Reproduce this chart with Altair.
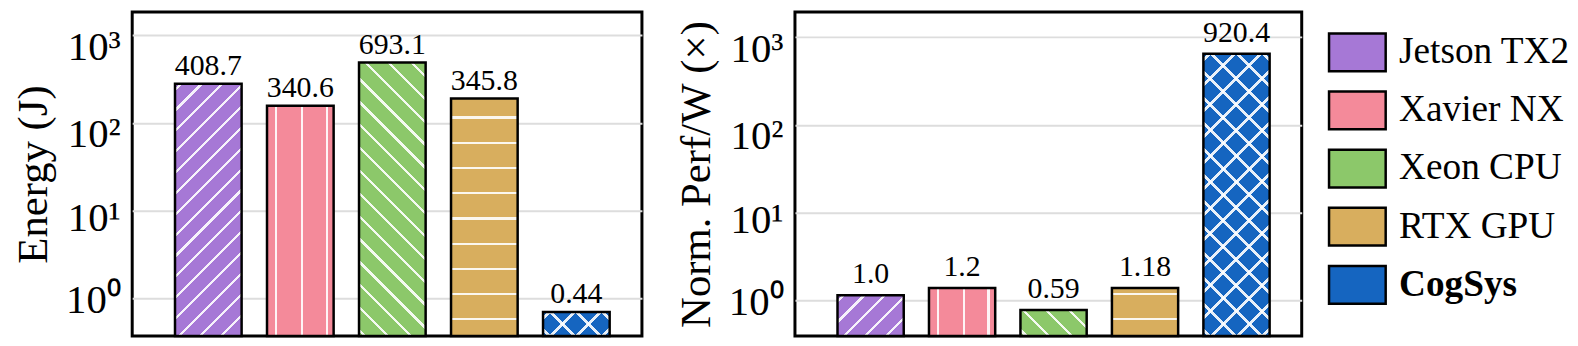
import math
import altair as alt

devices = ["Jetson TX2", "Xavier NX", "Xeon CPU", "RTX GPU", "CogSys"]
colors = ["#A678D6", "#F48A9A", "#8CC86A", "#D8AE5E", "#1565C0"]
hatches = ["fwd", "vert", "back", "horiz", "cross"]

energy_bar = [281, 157, 490, 190, 0.70]
energy_label = ["408.7", "340.6", "693.1", "345.8", "0.44"]

perf_bar = [1.15, 1.39, 0.78, 1.39, 649]
perf_label = ["1.0", "1.2", "0.59", "1.18", "920.4"]

tick_values = [1, 10, 100, 1000]

SERIF = "Liberation Serif"
PLOT_H = 326
PAD_IN, PAD_OUT, ALIGN = 0.276, 0.408, 0.57
CLEAR = "rgba(255,255,255,0)"
WHITE = "rgba(255,255,255,0.9)"

label_expr = ("datum.value >= 1000 ? '10\u00b3' : datum.value >= 100 ? '10\u00b2' : "
              "datum.value >= 10 ? '10\u00b9' : '10\u2070'")
label_offset = {"condition": [{"test": "datum.value >= 100", "value": 12},
                              {"test": "datum.value >= 10", "value": 8}],
                "value": 2}


def stripe_stops(positions, thick, length):
    stops = [{"offset": 0, "color": CLEAR}]
    for p in positions:
        a = max(0.0, (p - thick / 2) / length)
        b = min(1.0, (p + thick / 2) / length)
        if b <= 0 or a >= 1:
            continue
        stops += [{"offset": a, "color": CLEAR}, {"offset": a, "color": WHITE},
                  {"offset": b, "color": WHITE}, {"offset": b, "color": CLEAR}]
    stops.append({"offset": 1, "color": CLEAR})
    return stops


def diag(w, h, spacing, forward, thick=3.2):
    length = w + h
    a = (w + h) * w / (w * w + h * h)
    pos = [6 + spacing * k for k in range(int(length / spacing) + 2)]
    stops = stripe_stops(pos, thick, length)
    if forward:
        return {"gradient": "linear", "x1": 0, "y1": 0, "x2": a, "y2": a * h / w,
                "stops": stops}
    return {"gradient": "linear", "x1": 0, "y1": 1, "x2": a, "y2": 1 - a * h / w,
            "stops": stops}


def horiz(h):
    pos = [h - (16.7 + 25.4 * k) for k in range(int(h / 25.4) + 2)]
    pos = sorted(p for p in pos if p > -3)
    return {"gradient": "linear", "x1": 0, "y1": 0, "x2": 0, "y2": 1,
            "stops": stripe_stops(pos, 2.2, h)}


def vert(w):
    pos = [0.14 * w, 0.525 * w, 0.90 * w]
    return {"gradient": "linear", "x1": 0, "y1": 0, "x2": 1, "y2": 0,
            "stops": stripe_stops(pos, 2.2, w)}


legend = alt.Legend(
    title=None, orient="none", legendX=1203, legendY=10.5, padding=0,
    symbolType="M-1,-0.667L1,-0.667L1,0.667L-1,0.667Z", symbolSize=3249,
    symbolStrokeColor="black", symbolStrokeWidth=2.5, symbolOpacity=1,
    labelFont=SERIF, labelFontSize=37.5, labelColor="black", labelOffset=12,
    labelFontWeight={"expr": "datum.value === 'CogSys' ? 'bold' : 'normal'"},
    rowPadding=3.5, labelLimit=400)


def panel(values, labels, title, domain, width, label_dy_px):
    step = width / (len(devices) - PAD_IN + 2 * PAD_OUT)
    bw = step * (1 - PAD_IN)
    lo, hi = math.log10(domain[0]), math.log10(domain[1])
    rows = []
    for d, v, lab, hk in zip(devices, values, labels, hatches):
        h = PLOT_H * (math.log10(v) - lo) / (hi - lo)
        row = {"device": d, "value": v, "label": lab,
               "g_fwd": CLEAR, "g_back": CLEAR, "g_h": CLEAR, "g_v": CLEAR}
        if hk == "fwd":
            row["g_fwd"] = diag(bw, h, 21, True)
        elif hk == "back":
            row["g_back"] = diag(bw, h, 23, False)
        elif hk == "horiz":
            row["g_h"] = horiz(h)
        elif hk == "vert":
            row["g_v"] = vert(bw)
        else:
            row["g_fwd"] = diag(bw, h, 26, True, 4.0)
            row["g_back"] = diag(bw, h, 26, False, 4.0)
        rows.append(row)
    data = alt.Data(values=rows)

    x = alt.X("device:N", sort=devices, axis=None,
              scale=alt.Scale(paddingInner=PAD_IN, paddingOuter=PAD_OUT, align=ALIGN))
    y = alt.Y("value:Q",
              scale=alt.Scale(type="log", domain=domain, nice=False),
              axis=alt.Axis(title=title, values=tick_values, labelExpr=label_expr,
                            ticks=False, domain=False, grid=True,
                            gridColor="#dddddd", gridWidth=2,
                            labelFont=SERIF, labelFontSize=41, labelColor="black",
                            labelPadding=12, labelBaseline="middle",
                            labelOffset=label_offset,
                            titleFont=SERIF, titleFontSize=43, titleFontWeight="normal",
                            titleColor="black", titlePadding=10))
    y2 = alt.datum(domain[0])
    color = alt.Color("device:N", sort=devices,
                      scale=alt.Scale(domain=devices, range=colors), legend=legend)
    base = alt.Chart(data).mark_bar(strokeWidth=0, opacity=1).encode(
        x=x, y=y, y2=y2, color=color)
    overlays = [
        alt.Chart(data).mark_bar(strokeWidth=0).encode(
            x=x, y=y, y2=y2, fill=alt.Fill(f"{g}:N", scale=None, legend=None))
        for g in ["g_fwd", "g_back", "g_h", "g_v"]
    ]
    border = alt.Chart(data).mark_bar(fillOpacity=0, stroke="black", strokeWidth=2.5).encode(
        x=x, y=y, y2=y2)
    text = alt.Chart(data).mark_text(font=SERIF, fontSize=30, color="black",
                                     baseline="alphabetic", dy=label_dy_px).encode(
        x=x, y=y, text="label:N")
    return alt.layer(base, *overlays, border, text).properties(width=width, height=PLOT_H)


left = panel(energy_bar, energy_label, "Energy (J)", [0.374, 1840], 513, -9)
right = panel(perf_bar, perf_label, "Norm. Perf/W (\u00d7)", [0.394, 1936], 510, -12)

chart = alt.hconcat(left, right, spacing=154, bounds="flush").properties(
    padding={"left": 3, "top": 1, "right": 0, "bottom": 0}, background="white"
).configure_view(stroke="black", strokeWidth=3)

chart.save("out.html", embed_options={"renderer": "svg", "actions": False})
